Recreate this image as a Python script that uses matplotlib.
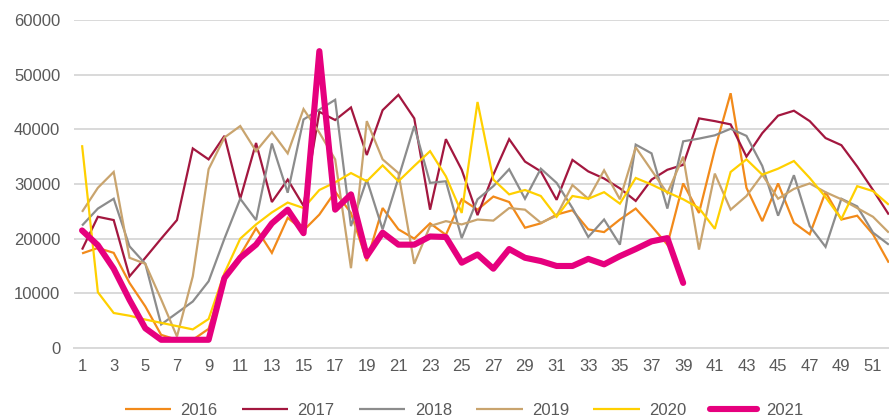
import matplotlib
matplotlib.use("Agg")
import matplotlib.pyplot as plt

weeks = list(range(1, 53))

s2016 = [17300, 18300, 17400, 11900, 7600, 2400, 1500, 1500, 3500, 13000,
         17000, 21900, 17400, 23800, 21500, 24400, 28600, 24700, 15900, 25600,
         21700, 20000, 22800, 20700, 27200, 25300, 27700, 26700, 22000, 22800,
         24400, 25200, 21700, 21200, 23500, 25500, 22300, 18900, 30100, 24700,
         36300, 46600, 29300, 23200, 30100, 22900, 20800, 28500, 23500, 24200,
         20800, 15600]
s2017 = [18000, 24000, 23400, 13100, 16500, 20000, 23400, 36500, 34500, 38800,
         27300, 37500, 26700, 30800, 26000, 43200, 41700, 44000, 35300, 43500,
         46300, 42000, 25300, 38200, 32600, 24300, 31700, 38200, 34100, 32300,
         27100, 34400, 32300, 31000, 29200, 26900, 30800, 32600, 33500, 42000,
         41500, 40900, 35000, 39300, 42500, 43400, 41500, 38400, 37100, 33200,
         28900, 24400]
s2018 = [22400, 25500, 27300, 18600, 15400, 4300, 6400, 8500, 12200, 20000,
         27300, 23400, 37400, 28400, 41800, 43600, 45400, 22300, 30800, 21700,
         31100, 40600, 30200, 30500, 20100, 27200, 29600, 32700, 27300, 32800,
         30200, 25600, 20300, 23500, 18900, 37200, 35600, 25500, 37800, 38300,
         38900, 40100, 38800, 33300, 24200, 31600, 22300, 18500, 27300, 25900,
         21100, 18900]
s2019 = [24900, 29300, 32200, 16500, 15400, 8900, 2100, 13100, 32700, 38500,
         40600, 36000, 39500, 35600, 43700, 39400, 34500, 14600, 41500, 34500,
         32000, 15400, 22300, 23200, 22600, 23500, 23300, 25600, 25300, 22900,
         24200, 29800, 27300, 32500, 27200, 36700, 32500, 28300, 35000, 18000,
         31900, 25300, 27800, 31700, 27300, 29100, 30100, 28500, 27200, 25600,
         24000, 21100]
s2020 = [37100, 10200, 6400, 5900, 5200, 4600, 4000, 3400, 5300, 13700,
         20000, 22600, 24800, 26600, 25600, 28900, 30300, 32000, 30500, 33400,
         30500, 33300, 36000, 31400, 24700, 45000, 30800, 28100, 28900, 27800,
         24000, 27800, 27300, 28500, 26400, 31100, 29900, 28500, 27200, 25600,
         21800, 32200, 34500, 31700, 32800, 34200, 31100, 27600, 23600, 29600,
         28700, 26200]
s2021 = [21500, 18800, 14500, 8800, 3600, 1500, 1500, 1500, 1500, 12800,
         16500, 18900, 22800, 25300, 21000, 54300, 25300, 28100, 16800, 21100,
         18900, 18900, 20400, 20300, 15600, 17100, 14500, 18100, 16500, 15900,
         15000, 15000, 16300, 15300, 16800, 18100, 19500, 20100, 11900]

labels = ["2016", "2017", "2018", "2019", "2020", "2021"]
series = [s2016, s2017, s2018, s2019, s2020, s2021]
colors = ["#F28A1A", "#A3173F", "#8C8C8C", "#C9A46E", "#FFD000", "#E6007E"]
widths = [1.6, 1.6, 1.6, 1.6, 1.6, 4.4]

yticks = [0, 10000, 20000, 30000, 40000, 50000, 60000]
xticks = list(range(1, 53, 2))

plt.rcParams['font.family'] = ['Liberation Sans', 'DejaVu Sans']

fig = plt.figure(figsize=(8.89, 4.19), dpi=100)
ax = fig.add_axes([0.0834, 0.1695, 0.9253, 0.7828])

for lab, s, c, w in zip(labels, series, colors, widths):
    ax.plot(weeks[:len(s)], s, color=c, lw=w, label=lab,
            solid_joinstyle='miter' if w < 2 else 'round',
            solid_capstyle='round' if w > 2 else 'butt', zorder=3 if w > 2 else 2)

ax.set_xlim(0.5, 52.5)
ax.set_ylim(0, 60000)
ax.set_yticks(yticks)
ax.set_yticklabels([str(v) for v in yticks])
ax.set_xticks(xticks)
ax.set_xticklabels([str(v) for v in xticks])
ax.grid(axis='y', color='#D9D9D9', lw=1.4, zorder=0)
ax.set_axisbelow(True)
for sp in ['top', 'right', 'left']:
    ax.spines[sp].set_visible(False)
ax.spines['bottom'].set_color('#D9D9D9')
ax.spines['bottom'].set_linewidth(1.4)
ax.tick_params(axis='both', length=0, colors='#595959', labelsize=12)
ax.tick_params(axis='y', pad=10)
ax.tick_params(axis='x', pad=8)

leg = fig.legend(loc='center', bbox_to_anchor=(0.522, 0.021), ncol=6, frameon=False,
                 fontsize=12, handlelength=2.8, handletextpad=0.55, columnspacing=1.45)
for t in leg.get_texts():
    t.set_color('#595959')

fig.savefig('out.png', dpi=100)
